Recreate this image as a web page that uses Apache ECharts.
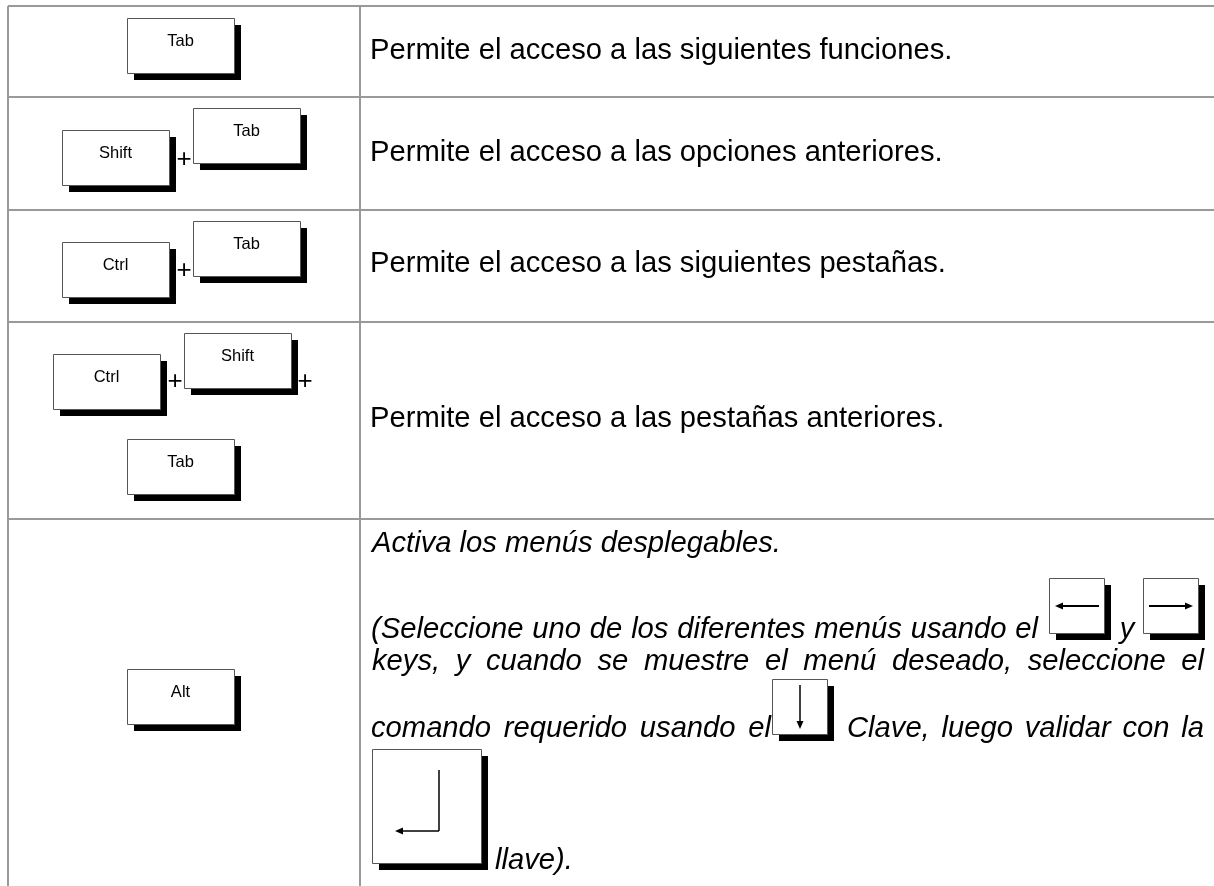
<!DOCTYPE html>
<html><head><meta charset="utf-8">
<script src="https://cdn.jsdelivr.net/npm/echarts@6/dist/echarts.min.js"></script>
<style>html,body{margin:0;padding:0;background:#fff}#c{width:1214px;height:886px}</style>
</head><body><div id="c"></div>
<script>
// ---- content ----
const rowKeys = [['Tab'], ['Shift', 'Tab'], ['Ctrl', 'Tab'], ['Ctrl', 'Shift', 'Tab'], ['Alt']];
const rowDescriptions = [
  'Permite el acceso a las siguientes funciones.',
  'Permite el acceso a las opciones anteriores.',
  'Permite el acceso a las siguientes pestañas.',
  'Permite el acceso a las pestañas anteriores.'
];
const altIntro = 'Activa los menús desplegables.';
const altLine2 = '(Seleccione uno de los diferentes menús usando el';
const altConj = 'y';
const altLine3 = 'keys, y cuando se muestre el menú deseado, seleccione el';
const altLine4a = 'comando requerido usando el';
const altLine4b = 'Clave, luego validar con la';
const altLine5 = 'llave).';
const joiner = '+';

// ---- layout ----
const FONT = '"Liberation Sans", Arial, sans-serif';
const TXT = '29.2px ';
const rowEdges = [6, 97, 210, 322, 519];
const tableLeft = 8, colDivider = 360, tableRight = 1214, tableBottom = 886;
const keyW = 107, keyH = 55, shadowOff = 7;
const keyPos = [
  [[127, 18]],
  [[62, 130], [193, 108]],
  [[62, 242], [193, 221]],
  [[53, 354], [184, 333], [127, 439]],
  [[127, 669]]
];
const plusPos = [[], [[184, 160]], [[184, 271]], [[175, 382], [305, 382]], []];
const descY = [51, 153, 264, 419];
const descX = 370;

const chart = echarts.init(document.getElementById('c'), null, {renderer: 'canvas'});
const g = [];

// table lines
const lineStyle = {stroke: '#9a9a9a', lineWidth: 2};
for (let i = 0; i < rowEdges.length; i++) {
  g.push({type: 'line', shape: {x1: tableLeft, y1: rowEdges[i], x2: tableRight, y2: rowEdges[i]}, style: lineStyle});
}
g.push({type: 'line', shape: {x1: tableLeft, y1: rowEdges[0], x2: tableLeft, y2: tableBottom}, style: lineStyle});
g.push({type: 'line', shape: {x1: colDivider, y1: rowEdges[0], x2: colDivider, y2: tableBottom}, style: lineStyle});

function keyBox(x, y, w, h, label) {
  g.push({type: 'rect', shape: {x: x + shadowOff, y: y + shadowOff, width: w, height: h}, style: {fill: '#000'}});
  g.push({type: 'rect', shape: {x: x + 0.5, y: y + 0.5, width: w, height: h}, style: {fill: '#fff', stroke: '#555', lineWidth: 1}});
  if (label) {
    g.push({type: 'text', x: x + w / 2, y: y + 23, style: {text: label, font: '16.5px ' + FONT, fill: '#000', align: 'center', verticalAlign: 'middle'}});
  }
}
function text(x, y, s, italic, align) {
  g.push({type: 'text', x: x, y: y, style: {text: s, font: (italic ? 'italic ' : '') + TXT + FONT, fill: '#000', align: align || 'left', verticalAlign: 'middle'}});
}

rowKeys.forEach((keys, r) => {
  keys.forEach((k, i) => keyBox(keyPos[r][i][0], keyPos[r][i][1], keyW, keyH, k));
  plusPos[r].forEach(p => g.push({type: 'text', x: p[0], y: p[1], style: {text: joiner, font: '26px ' + FONT, fill: '#000', align: 'center', verticalAlign: 'middle'}}));
});
rowDescriptions.forEach((d, r) => text(descX, descY[r], d, false));

// justified italic text
const ctx = document.createElement('canvas').getContext('2d');
ctx.font = 'italic ' + TXT + FONT;
function justify(str, x0, x1, y) {
  const words = str.split(' ');
  const widths = words.map(w => ctx.measureText(w).width);
  const total = widths.reduce((a, b) => a + b, 0);
  const gap = words.length > 1 ? (x1 - x0 - total) / (words.length - 1) : 0;
  let x = x0;
  words.forEach((w, i) => { text(x, y, w, true); x += widths[i] + gap; });
}
text(372, 544, altIntro, true);
justify(altLine2, 371, 1038, 630);
text(1127, 630, altConj, true, 'center');
justify(altLine3, 372, 1204, 662);
justify(altLine4a, 371, 771, 729);
justify(altLine4b, 847, 1204, 729);
text(495, 861, altLine5, true);

// arrow keys
function arrowHead(tx, ty, dir) {
  const L = 8, W = 3.5;
  let pts;
  if (dir === 'left') pts = [[tx, ty], [tx + L, ty - W], [tx + L, ty + W]];
  if (dir === 'right') pts = [[tx, ty], [tx - L, ty - W], [tx - L, ty + W]];
  if (dir === 'down') pts = [[tx, ty], [tx - W, ty - L], [tx + W, ty - L]];
  g.push({type: 'polygon', shape: {points: pts}, style: {fill: '#000'}});
}
function seg(x1, y1, x2, y2, w) {
  g.push({type: 'line', shape: {x1, y1, x2, y2}, style: {stroke: '#000', lineWidth: w || 1.5}});
}
keyBox(1049, 578, 55, 55);
seg(1060, 606, 1099, 606, 2); arrowHead(1055, 606, 'left');
keyBox(1143, 578, 55, 55);
seg(1149, 606, 1188, 606, 2); arrowHead(1193, 606, 'right');
keyBox(772, 679, 55, 55);
seg(800, 685, 800, 724, 1.5); arrowHead(800, 729, 'down');
keyBox(372, 749, 109, 114);
seg(439, 770, 439, 831, 1.5); seg(439, 831, 400, 831, 1.5); arrowHead(395, 831, 'left');

chart.setOption({animation: false, backgroundColor: '#fff', graphic: {elements: g}});
</script></body></html>
